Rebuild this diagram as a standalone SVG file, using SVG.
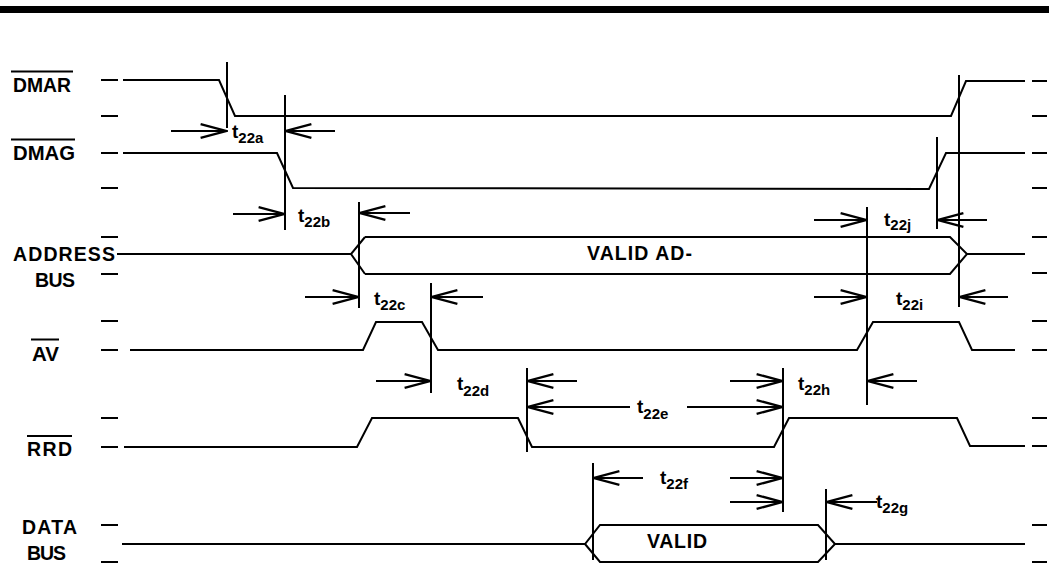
<svg xmlns="http://www.w3.org/2000/svg" width="1049" height="563" viewBox="0 0 1049 563">
<style>
.w{fill:none;stroke:#000;stroke-width:2;stroke-linejoin:miter}
.tk{stroke:#000;stroke-width:2}
.ol{stroke:#000;stroke-width:2}
.lbl{font-family:"Liberation Sans",Arial,Helvetica,sans-serif;font-weight:bold;font-size:19.5px;fill:#000}
.t{font-family:"Liberation Sans",Arial,Helvetica,sans-serif;font-weight:bold;font-size:19px;fill:#000}
.sub{font-size:15px}
.v{stroke:#000;stroke-width:2}
.a{stroke:#000;stroke-width:2;fill:none;marker-end:url(#ah)}
</style>
<defs>
<marker id="ah" markerUnits="userSpaceOnUse" markerWidth="30" markerHeight="20" viewBox="-24 -8 26 16" refX="0" refY="0" orient="auto">
<path d="M-22,-6 L0,0 L-22,6" fill="none" stroke="#000" stroke-width="2"/>
</marker>
</defs>
<rect x="0" y="6" width="1049" height="7" fill="#000"/>

<g id="dmar">
<text class="lbl" x="13" y="92" textLength="58" lengthAdjust="spacingAndGlyphs">DMAR</text>
<line class="ol" x1="11" y1="71.5" x2="73" y2="71.5"/>
<path class="tk" d="M101,80H118M101,116H118M1032,81H1047M1032,116H1047"/>
<polyline class="w" points="123,80 219,80 235,116 951,116 966,81 1025,81"/>
</g>

<g id="dmag">
<text class="lbl" x="13" y="160" textLength="62" lengthAdjust="spacingAndGlyphs">DMAG</text>
<line class="ol" x1="11" y1="139.5" x2="75" y2="139.5"/>
<path class="tk" d="M101,153H118M101,188H118M1032,153H1047M1032,188H1047"/>
<polyline class="w" points="123,153 277,153 293,188 929,189 946,153 1025,153"/>
</g>

<g id="address-bus">
<text class="lbl" x="13" y="261" textLength="102" lengthAdjust="spacing">ADDRESS</text>
<text class="lbl" x="35" y="287" textLength="40" lengthAdjust="spacing">BUS</text>
<path class="tk" d="M101,237H118M101,274H118M1032,237H1047M1032,273H1047"/>
<polyline class="w" points="117,254 351,254"/>
<path class="w" d="M365,237 L351,254 L365,274 M365,237 H950 L967,254 L950,274 H365 M967,254 H1025"/>
<text class="lbl" x="587" y="260" textLength="105" lengthAdjust="spacing">VALID AD-</text>
</g>

<g id="av">
<text class="lbl" x="32" y="361" textLength="27" lengthAdjust="spacingAndGlyphs">AV</text>
<line class="ol" x1="31" y1="339.5" x2="59" y2="339.5"/>
<path class="tk" d="M101,321H118M101,350H118M1032,321H1047M1032,350H1047"/>
<polyline class="w" points="130,350 363,350 376,322 422,322 438,350 857,350 873,322 959,322 972,350 1015,350"/>
</g>

<g id="rrd">
<text class="lbl" x="27" y="456" textLength="45" lengthAdjust="spacing">RRD</text>
<line class="ol" x1="27" y1="436" x2="72" y2="436"/>
<path class="tk" d="M101,418H118M101,447H118M1032,418H1047M1032,446H1047"/>
<polyline class="w" points="124,447 357,447 372,418 518,418 532,447 774,447 789,418 957,418 970,446 1025,446"/>
</g>

<g id="data-bus">
<text class="lbl" x="22" y="534" textLength="55" lengthAdjust="spacing">DATA</text>
<text class="lbl" x="27" y="560" textLength="39" lengthAdjust="spacing">BUS</text>
<path class="tk" d="M101,525H118M101,562H118M1032,525H1047M1032,562H1047"/>
<path class="w" d="M122,544 H585 L600,525 H818 L835,544 L818,562 H600 L585,544 M835,544 H1025"/>
<text class="lbl" x="647" y="548" textLength="60" lengthAdjust="spacing">VALID</text>
</g>

<g id="connectors">
<path class="v" d="M227,62V128M285,95V230M359,202V308M431,283V393M527,368V452M783,368V512M593,463V560M826,489V560M867,207V405M937,137V229M959,75V307"/>
<line class="a" x1="171" y1="131" x2="226" y2="131"/>
<line class="a" x1="335" y1="131" x2="286" y2="131"/>
<line class="a" x1="233" y1="214" x2="284" y2="214"/>
<line class="a" x1="410" y1="213" x2="360" y2="213"/>
<line class="a" x1="305" y1="297" x2="358" y2="297"/>
<line class="a" x1="483" y1="297" x2="432" y2="297"/>
<line class="a" x1="376" y1="381" x2="430" y2="381"/>
<line class="a" x1="577" y1="381" x2="528" y2="381"/>
<line class="a" x1="630" y1="407" x2="528" y2="407"/>
<line class="a" x1="687" y1="407" x2="782" y2="407"/>
<line class="a" x1="730" y1="381" x2="782" y2="381"/>
<line class="a" x1="917" y1="381" x2="868" y2="381"/>
<line class="a" x1="643" y1="478" x2="594" y2="478"/>
<line class="a" x1="730" y1="478" x2="782" y2="478"/>
<line class="a" x1="730" y1="502" x2="782" y2="502"/>
<line class="a" x1="877" y1="502" x2="827" y2="502"/>
<line class="a" x1="814" y1="297" x2="866" y2="297"/>
<line class="a" x1="1008" y1="297" x2="960" y2="297"/>
<line class="a" x1="814" y1="220" x2="866" y2="220"/>
<line class="a" x1="987" y1="220" x2="938" y2="220"/>
</g>

<g id="timing-labels">
<text class="t" x="232" y="138">t<tspan class="sub" dy="5">22a</tspan></text>
<text class="t" x="298" y="222">t<tspan class="sub" dy="5">22b</tspan></text>
<text class="t" x="374" y="305">t<tspan class="sub" dy="5">22c</tspan></text>
<text class="t" x="457" y="390">t<tspan class="sub" dy="6">22d</tspan></text>
<text class="t" x="637" y="413">t<tspan class="sub" dy="6">22e</tspan></text>
<text class="t" x="660" y="484">t<tspan class="sub" dy="5">22f</tspan></text>
<text class="t" x="876" y="508">t<tspan class="sub" dy="5">22g</tspan></text>
<text class="t" x="798" y="390">t<tspan class="sub" dy="5">22h</tspan></text>
<text class="t" x="896" y="305">t<tspan class="sub" dy="5">22i</tspan></text>
<text class="t" x="884" y="226">t<tspan class="sub" dy="4">22j</tspan></text>
</g>
</svg>
